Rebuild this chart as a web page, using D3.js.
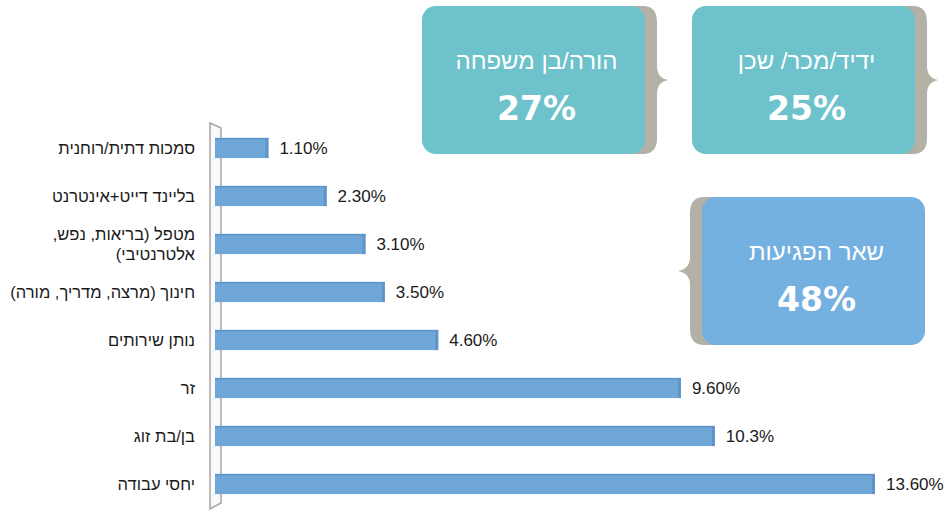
<!DOCTYPE html>
<html lang="he">
<head>
  <meta charset="utf-8">
  <title>פגיעות</title>
  <script src="https://d3js.org/d3.v7.min.js"></script>
  <style>
    body { margin: 0; background: #fff; }
    svg text { font-family: "Liberation Sans", Arial, sans-serif; }
  </style>
</head>
<body>
  <div id="chart"></div>

  <script>
    "use strict"

    // data
    var categories = ["סמכות דתית/רוחנית", "בליינד דייט+אינטרנט", "מטפל (בריאות, נפש,|אלטרנטיבי)",
                      "חינוך (מרצה, מדריך, מורה)", "נותן שירותים", "זר", "בן/בת זוג", "יחסי עבודה"];
    var values = [1.1, 2.3, 3.1, 3.5, 4.6, 9.6, 10.3, 13.6];
    var valueLabels = ["1.10%", "2.30%", "3.10%", "3.50%", "4.60%", "9.60%", "10.3%", "13.60%"];

    var boxNames = ["הורה/בן משפחה", "ידיד/מכר/ שכן", "שאר הפגיעות"];
    var boxPercents = ["27%", "25%", "48%"];

    var W = 948, H = 512;

    var svg = d3.select("#chart").append("svg")
      .attr("width", W).attr("height", H);

    var x = d3.scaleLinear().domain([0, 13.6]).range([215, 875]);
    var y = d3.scaleBand().domain(categories).range([124, 508])
      .paddingInner(0.58).paddingOuter(0.29);

    // 3d wall of the axis
    svg.append("path")
      .attr("d", "M210,123 L221,128 L221,503 L210,509 Z")
      .attr("fill", "#fafafa")
      .attr("stroke", "#a6a6a6")
      .attr("stroke-width", 1.5);

    var bars = svg.selectAll("g.bar")
      .data(categories)
      .enter().append("g").attr("class", "bar");

    bars.append("rect")
      .attr("x", x(0))
      .attr("y", function(d) { return y(d); })
      .attr("width", function(d, i) { return x(values[i]) - x(0); })
      .attr("height", y.bandwidth())
      .attr("fill", "#6fa8d8");

    bars.append("rect")
      .attr("x", x(0))
      .attr("y", function(d) { return y(d); })
      .attr("width", function(d, i) { return x(values[i]) - x(0); })
      .attr("height", 1.5)
      .attr("fill", "#5c93c6");

    bars.append("rect")
      .attr("x", function(d, i) { return x(values[i]) - 3; })
      .attr("y", function(d) { return y(d); })
      .attr("width", 3)
      .attr("height", y.bandwidth())
      .attr("fill", "#5f95c6");

    bars.append("text")
      .attr("x", function(d, i) { return x(values[i]) + 11; })
      .attr("y", function(d) { return y(d) + y.bandwidth() / 2; })
      .attr("dy", "0.36em")
      .attr("font-size", 17)
      .attr("fill", "#1a1a1a")
      .text(function(d, i) { return valueLabels[i]; });

    // category labels, right aligned
    bars.each(function(d) {
      var lines = d.split("|");
      var cy = y(d) + y.bandwidth() / 2;
      var t = d3.select(this).append("text")
        .attr("direction", "rtl")
        .attr("text-anchor", "start")
        .attr("font-size", 16.5)
        .attr("fill", "#1a1a1a");
      lines.forEach(function(l, k) {
        t.append("tspan")
          .attr("x", 195)
          .attr("y", cy + (k - (lines.length - 1) / 2) * 20)
          .attr("dy", "0.36em")
          .text(l);
      });
    });

    // callout boxes
    var boxes = [
      {x: 422, y: 6, w: 223, h: 148, fill: "#6dc2cc", side: "right"},
      {x: 692, y: 6, w: 223, h: 148, fill: "#6dc2cc", side: "right"},
      {x: 702, y: 197, w: 223, h: 148, fill: "#75b1e0", side: "left"}
    ];

    function bracePath(b) {
      var T = b.y, B = b.y + b.h, M = b.y + b.h / 2;
      if (b.side === "right") {
        var R = b.x + b.w;
        return "M" + (R - 20) + "," + T + " L" + (R - 2) + "," + T +
          " Q" + (R + 12) + "," + T + " " + (R + 12) + "," + (T + 16) +
          " L" + (R + 12) + "," + (M - 14) +
          " Q" + (R + 12) + "," + (M - 2) + " " + (R + 23) + "," + M +
          " Q" + (R + 12) + "," + (M + 2) + " " + (R + 12) + "," + (M + 14) +
          " L" + (R + 12) + "," + (B - 16) +
          " Q" + (R + 12) + "," + B + " " + (R - 2) + "," + B +
          " L" + (R - 20) + "," + B + " Z";
      }
      var L = b.x;
      return "M" + (L + 20) + "," + T + " L" + (L + 2) + "," + T +
        " Q" + (L - 12) + "," + T + " " + (L - 12) + "," + (T + 16) +
        " L" + (L - 12) + "," + (M - 14) +
        " Q" + (L - 12) + "," + (M - 2) + " " + (L - 24) + "," + M +
        " Q" + (L - 12) + "," + (M + 2) + " " + (L - 12) + "," + (M + 14) +
        " L" + (L - 12) + "," + (B - 16) +
        " Q" + (L - 12) + "," + B + " " + (L + 2) + "," + B +
        " L" + (L + 20) + "," + B + " Z";
    }

    var cb = svg.selectAll("g.callout")
      .data(boxes)
      .enter().append("g").attr("class", "callout");

    cb.append("path")
      .attr("d", bracePath)
      .attr("fill", "#b3b0a6");

    cb.append("rect")
      .attr("x", function(d) { return d.x; })
      .attr("y", function(d) { return d.y; })
      .attr("width", function(d) { return d.w; })
      .attr("height", function(d) { return d.h; })
      .attr("rx", 14)
      .attr("fill", function(d) { return d.fill; });

    cb.append("text")
      .attr("x", function(d) { return d.x + d.w / 2 + 3; })
      .attr("y", function(d) { return d.y + 54; })
      .attr("dy", "0.36em")
      .attr("text-anchor", "middle")
      .attr("direction", "rtl")
      .attr("font-size", 24)
      .attr("fill", "#fff")
      .text(function(d, i) { return boxNames[i]; });

    cb.append("text")
      .attr("x", function(d) { return d.x + d.w / 2 + 3; })
      .attr("y", function(d) { return d.y + 102; })
      .attr("dy", "0.36em")
      .attr("text-anchor", "middle")
      .attr("font-size", 33)
      .attr("font-weight", "bold")
      .attr("fill", "#fff")
      .style("font-family", "'DejaVu Sans', sans-serif")
      .text(function(d, i) { return boxPercents[i]; });
  </script>
</body>
</html>
